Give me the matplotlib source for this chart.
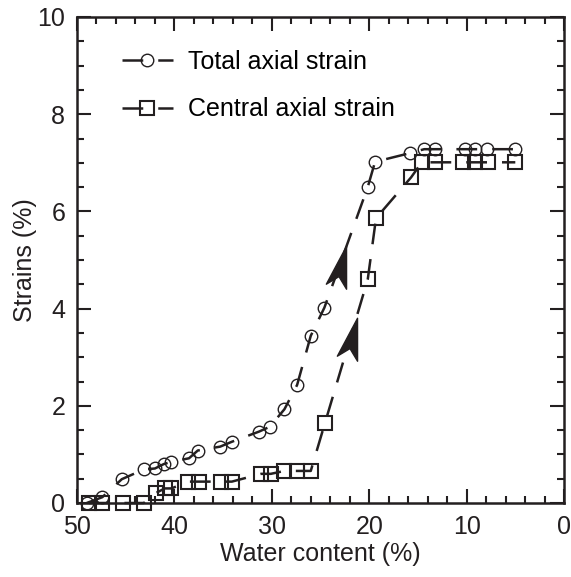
import numpy as np
import matplotlib
matplotlib.use('Agg')
import matplotlib.pyplot as plt
from matplotlib.path import Path
from matplotlib.markers import MarkerStyle
from matplotlib.transforms import Affine2D
from matplotlib.ticker import MultipleLocator

plt.rcParams['font.family'] = ['Liberation Sans', 'DejaVu Sans']

INK = '#231f20'

# total axial strain (circles)
w_total = [49.0, 47.4, 45.4, 43.15, 42.0, 41.1, 40.3, 38.5, 37.6, 35.3, 34.1,
           31.3, 30.2, 28.7, 27.4, 26.0, 24.6, 20.15, 19.4, 15.8, 14.35, 13.2,
           10.2, 9.1, 7.95, 5.05]
s_total = [0.0, 0.12, 0.49, 0.69, 0.71, 0.80, 0.85, 0.92, 1.08, 1.16, 1.26,
           1.47, 1.57, 1.93, 2.43, 3.44, 4.02, 6.50, 7.02, 7.20, 7.28, 7.28,
           7.28, 7.28, 7.28, 7.28]

# central axial strain (squares)
w_central = [48.8, 47.4, 45.3, 43.15, 41.85, 41.0, 40.3, 38.6, 37.5, 35.2, 34.1,
             31.1, 30.1, 28.7, 27.4, 26.0, 24.55, 20.15, 19.3, 15.7, 14.6, 13.2,
             10.4, 9.1, 7.85, 5.0]
s_central = [0.0, 0.0, 0.0, 0.0, 0.21, 0.30, 0.30, 0.44, 0.44, 0.44, 0.44,
             0.60, 0.60, 0.66, 0.66, 0.66, 1.64, 4.60, 5.86, 6.70, 7.01, 7.01,
             7.01, 7.01, 7.01, 7.01]

# direction arrows (centre of the arrowhead)
arrow_w = [22.9, 21.8]
arrow_s = [4.88, 3.40]

labels = ['Total axial strain', 'Central axial strain']


def stealth_marker(angle):
    verts = [(0, 1), (-0.5, -1), (0, -0.5), (0.5, -1), (0, 1)]
    codes = [Path.MOVETO, Path.LINETO, Path.LINETO, Path.LINETO, Path.CLOSEPOLY]
    return MarkerStyle(Path(verts, codes), transform=Affine2D().rotate_deg(angle))


fig = plt.figure(figsize=(5.71, 5.77), dpi=100)
ax = fig.add_axes([77 / 571, 1 - 503 / 577, 487 / 571, 486 / 577])

dash = (0, (8.3, 6))
ax.plot(w_total, s_total, color=INK, lw=1.8, linestyle=dash, marker='o', ms=9,
        mfc='none', mec=INK, mew=1.0, clip_on=False, label=labels[0])
ax.plot(w_central, s_central, color=INK, lw=1.8, linestyle=dash, marker='s', ms=9.5,
        mfc='none', mec=INK, mew=1.5, clip_on=False, label=labels[1])

for aw, as_ in zip(arrow_w, arrow_s):
    ax.plot(aw, as_, linestyle='none', marker=stealth_marker(-14), ms=30,
            color=INK, mec=INK)

ax.set_xlim(50, 0)
ax.set_ylim(0, 10)
ax.xaxis.set_major_locator(MultipleLocator(10))
ax.xaxis.set_minor_locator(MultipleLocator(2))
ax.yaxis.set_major_locator(MultipleLocator(2))
ax.yaxis.set_minor_locator(MultipleLocator(0.5))
ax.tick_params(which='both', direction='in', top=True, right=True, width=1.5,
               color=INK, labelsize=18, labelcolor=INK)
ax.tick_params(which='major', length=10)
ax.tick_params(which='minor', length=5)
ax.tick_params(axis='x', which='major', pad=9)
ax.tick_params(axis='y', which='major', pad=8.5)
for sp in ax.spines.values():
    sp.set_linewidth(1.8)
    sp.set_color(INK)

ax.set_xlabel('Water content (%)', fontsize=18, color=INK, labelpad=1.5)
ax.set_ylabel('Strains (%)', fontsize=18, color=INK, labelpad=0.5)

ax.legend(loc='upper left', bbox_to_anchor=(0.092, 0.933), frameon=False,
          borderaxespad=0, borderpad=0, fontsize=18, handlelength=2.05,
          handletextpad=0.6, labelspacing=0.95)

plt.savefig('out.png', dpi=100)
